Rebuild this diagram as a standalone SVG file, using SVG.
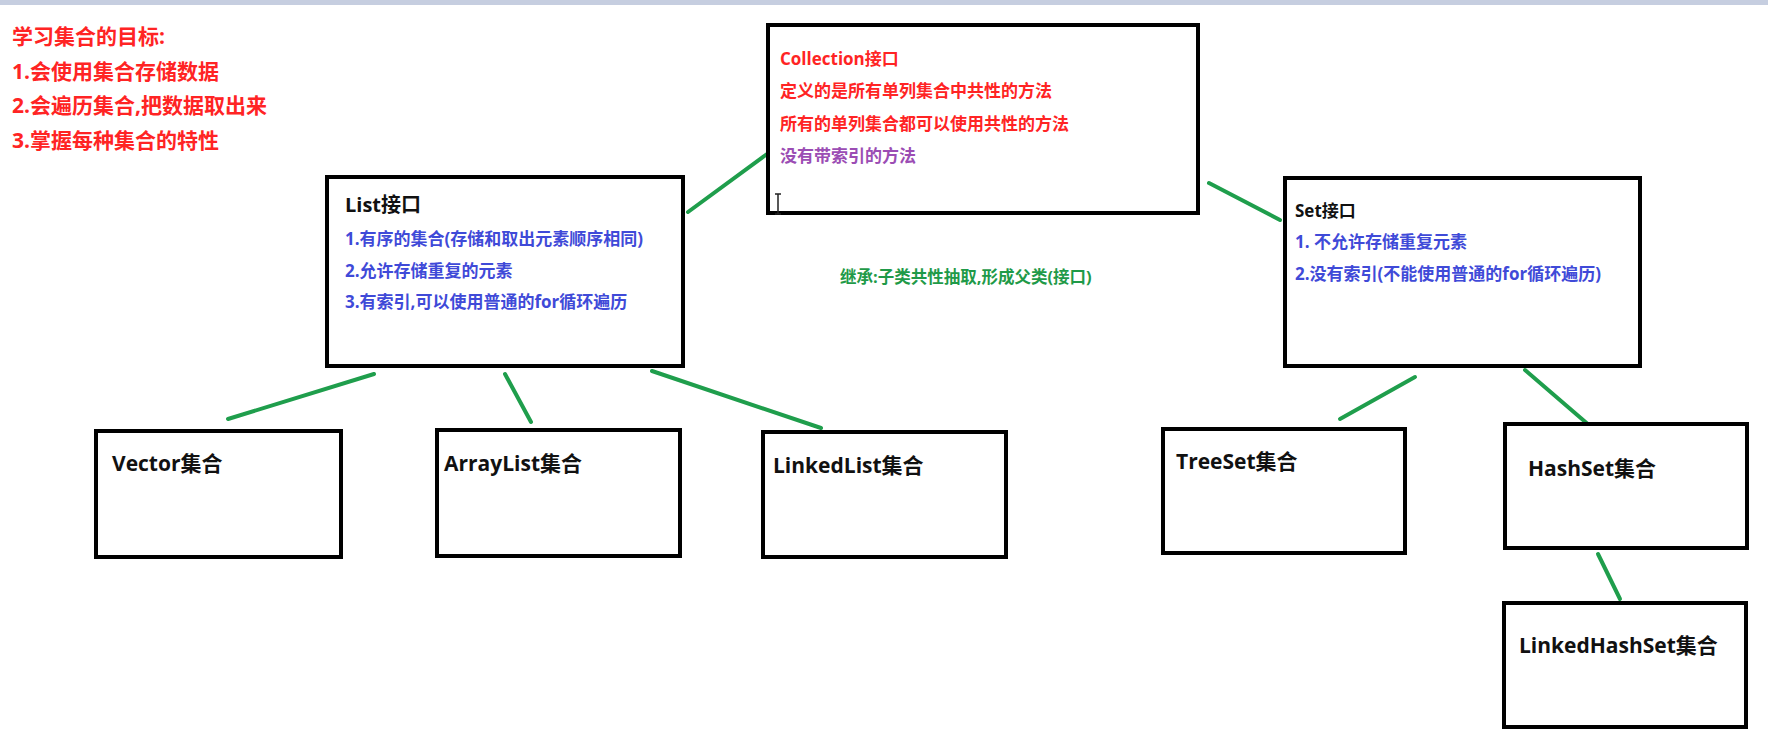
<svg xmlns="http://www.w3.org/2000/svg" width="1768" height="740" viewBox="0 0 1768 740">
<style>
text{font-family:"Open Sans","Noto Sans CJK SC","Liberation Sans",sans-serif;font-weight:bold}
.box{fill:#fff;stroke:#000;stroke-width:4}
.red{fill:#ff2424}
.blue{fill:#3f4ad8}
.purple{fill:#9b4db4}
.green{fill:#1f9a48}
.blk{fill:#111}
.lbl{font-size:21px}
.conn line{stroke:#1f9e4c;stroke-width:4;stroke-linecap:round}
</style>
<rect width="1768" height="740" fill="#fff"/>
<rect width="1768" height="5" fill="#c6cee0"/>
<g id="goals">
<text class="red" x="12" y="44" font-size="21">学习集合的目标:</text>
<text class="red" x="12" y="79" font-size="21">1.会使用集合存储数据</text>
<text class="red" x="12" y="113" font-size="21">2.会遍历集合,把数据取出来</text>
<text class="red" x="12" y="148" font-size="21">3.掌握每种集合的特性</text>
</g>
<g class="conn" id="connectors">
<line x1="688" y1="212" x2="767" y2="154"/>
<line x1="1209" y1="183" x2="1280" y2="220"/>
<line x1="374" y1="374" x2="228" y2="419"/>
<line x1="505" y1="374" x2="531" y2="422"/>
<line x1="652" y1="371" x2="821" y2="428"/>
<line x1="1415" y1="377" x2="1340" y2="419"/>
<line x1="1525" y1="370" x2="1597" y2="432"/>
<line x1="1598" y1="554" x2="1620" y2="599"/>
</g>
<g id="collection">
<rect class="box" x="768" y="25" width="430" height="188"/>
<text class="red" x="780" y="65" font-size="17">Collection接口</text>
<text class="red" x="780" y="97" font-size="17">定义的是所有单列集合中共性的方法</text>
<text class="red" x="780" y="130" font-size="17">所有的单列集合都可以使用共性的方法</text>
<text class="purple" x="780" y="162" font-size="17">没有带索引的方法</text>
</g>
<path d="M775 194h6M778 194v20M775 214h6" stroke="#222" stroke-width="1.5" fill="none"/>
<g id="list">
<rect class="box" x="327" y="177" width="356" height="189"/>
<text class="blk" x="345" y="212" font-size="20">List接口</text>
<text class="blue" x="345" y="245" font-size="17">1.有序的集合(存储和取出元素顺序相同)</text>
<text class="blue" x="345" y="277" font-size="17">2.允许存储重复的元素</text>
<text class="blue" x="345" y="308" font-size="17">3.有索引,可以使用普通的for循环遍历</text>
</g>
<g id="set">
<rect class="box" x="1285" y="178" width="355" height="188"/>
<text class="blk" x="1295" y="217" font-size="17">Set接口</text>
<text class="blue" x="1295" y="248" font-size="17">1. 不允许存储重复元素</text>
<text class="blue" x="1295" y="280" font-size="17">2.没有索引(不能使用普通的for循环遍历)</text>
</g>
<g id="inherit-note">
<text class="green" x="840" y="283" font-size="16.5">继承:子类共性抽取,形成父类(接口)</text>
</g>
<g id="vector">
<rect class="box" x="96" y="431" width="245" height="126"/>
<text class="blk lbl" x="112" y="471">Vector集合</text>
</g>
<g id="arraylist">
<rect class="box" x="437" y="430" width="243" height="126"/>
<text class="blk lbl" x="444" y="471">ArrayList集合</text>
</g>
<g id="linkedlist">
<rect class="box" x="763" y="432" width="243" height="125"/>
<text class="blk lbl" x="773" y="473">LinkedList集合</text>
</g>
<g id="treeset">
<rect class="box" x="1163" y="429" width="242" height="124"/>
<text class="blk lbl" x="1176" y="469">TreeSet集合</text>
</g>
<g id="hashset">
<rect class="box" x="1505" y="424" width="242" height="124"/>
<text class="blk lbl" x="1528" y="476">HashSet集合</text>
</g>
<g id="linkedhashset">
<rect class="box" x="1504" y="603" width="242" height="124"/>
<text class="blk lbl" x="1519" y="653">LinkedHashSet集合</text>
</g>
</svg>
